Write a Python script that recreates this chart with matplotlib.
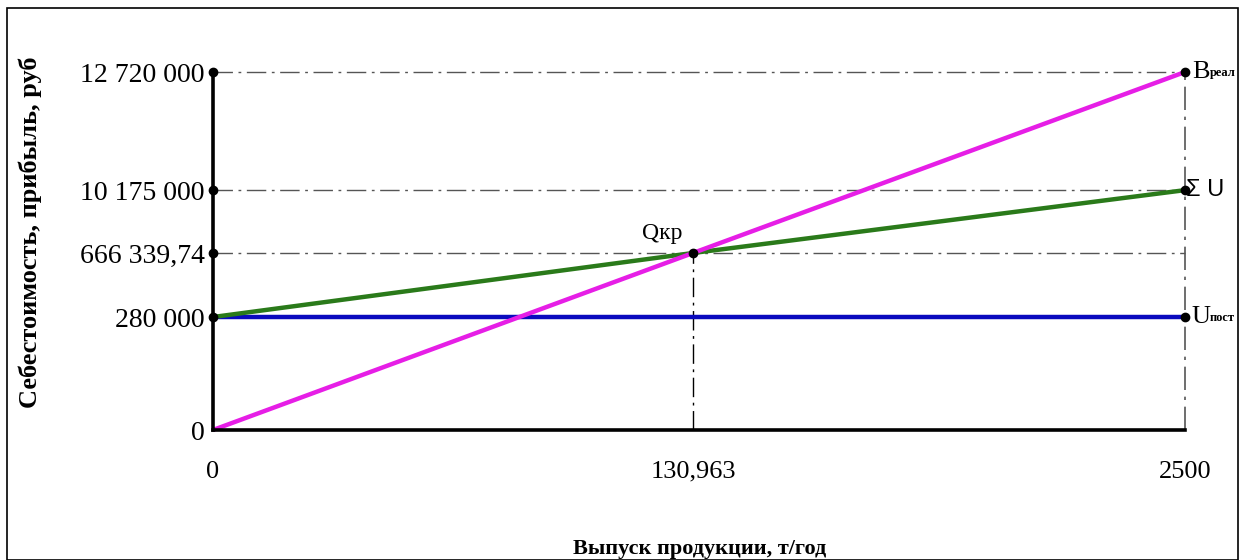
import numpy as np
import matplotlib
matplotlib.use("Agg")
import matplotlib.pyplot as plt
from matplotlib.patches import Rectangle

# ---- data ----
q_values = [0, 130.963, 2500]
x_tick_labels = ["0", "130,963", "2500"]
y_values = [0, 280000, 666339.74, 10175000, 12720000]
y_tick_labels = ["0", "280 000", "666 339,74", "10 175 000", "12 720 000"]
revenue = [0, 666339.74, 12720000]          # B реал
total_cost = [280000, 666339.74, 10175000]  # Σ U
fixed_cost = [280000, 280000, 280000]       # U пост
q_crit = 130.963
c_crit = 666339.74

# schematic (non-proportional) axis positions
x_pos = [0, 0.4938, 1.0]
y_pos = [0, 0.3156, 0.4944, 0.670, 1.0]

def make_scale(vals, pos):
    vals = np.asarray(vals, float); pos = np.asarray(pos, float)
    fwd = lambda v: np.interp(v, vals, pos)
    inv = lambda p: np.interp(p, pos, vals)
    return fwd, inv

W, H = 1245, 560
fig = plt.figure(figsize=(W/100, H/100), dpi=100)
serif = "Liberation Serif"
plt.rcParams['font.family'] = [serif, 'DejaVu Serif']

ax = fig.add_axes([213/W, (H-430)/H, (1185-213)/W, (430-72)/H])
ax.set_xscale('function', functions=make_scale(q_values, x_pos))
ax.set_yscale('function', functions=make_scale(y_values, y_pos))
ax.set_xlim(q_values[0], q_values[-1])
ax.set_ylim(y_values[0], y_values[-1])

for s in ['top', 'right']:
    ax.spines[s].set_visible(False)
for s in ['left', 'bottom']:
    ax.spines[s].set_linewidth(2.6)
    ax.spines[s].set_color('black')
    ax.spines[s].set_zorder(6)

ax.set_xticks(q_values)
ax.set_xticklabels(x_tick_labels, fontsize=19)
ax.set_yticks(y_values)
ax.set_yticklabels(y_tick_labels, fontsize=20)
ax.tick_params(axis='x', length=0, pad=22)
ax.tick_params(axis='y', length=0, pad=6)

# guide lines
dash = (0, (14, 4, 2, 4))
for yv in y_values[1:]:
    ax.plot([q_values[0], q_values[-1]], [yv, yv], color='#555555', lw=1,
            linestyle=dash, zorder=1, clip_on=False)
ax.plot([q_values[-1], q_values[-1]], [y_values[0], y_values[-1]], color='#555555',
        lw=1.2, linestyle=dash, zorder=1, clip_on=False)
ax.plot([q_crit, q_crit], [y_values[0], c_crit], color='black', lw=1,
        linestyle=dash, zorder=1, clip_on=False)

# series
ax.plot(q_values, fixed_cost, color='#0A0ABE', lw=3.2, zorder=3, clip_on=False,
        solid_capstyle='butt')
ax.plot(q_values, total_cost, color='#2A7A1A', lw=3.2, zorder=4, clip_on=False,
        solid_capstyle='butt')
ax.plot(q_values, revenue, color='#E61EE6', lw=3.2, zorder=5, clip_on=False,
        solid_capstyle='butt')

# points
ax.plot([0]*4, y_values[1:], 'o', color='black', ms=6, zorder=7, clip_on=False)
ax.plot([q_values[-1]]*3, [revenue[-1], total_cost[-1], fixed_cost[-1]], 'o',
        color='black', ms=6, zorder=7, clip_on=False)
ax.plot([q_crit], [c_crit], 'o', color='black', ms=6, zorder=7, clip_on=False)

# labels at right end
def end_label(big, small, yv, dx_small):
    ax.annotate(big, xy=(q_values[-1], yv), xytext=(5, 0), textcoords='offset points',
                va='center', ha='left', fontsize=19, annotation_clip=False)
    ax.annotate(small, xy=(q_values[-1], yv), xytext=(5 + dx_small, -1),
                textcoords='offset points', va='center', ha='left', fontsize=9,
                fontweight='bold', annotation_clip=False)

end_label("B", "реал", revenue[-1], 13)
end_label("U", "пост", fixed_cost[-1], 13)
ax.annotate("Σ U", xy=(q_values[-1], total_cost[-1]), xytext=(1, 0),
            textcoords='offset points', va='center', ha='left', fontsize=17,
            family='Liberation Sans', annotation_clip=False)
ax.annotate("Qкр", xy=(q_crit, c_crit), xytext=(-22, 14), textcoords='offset points',
            va='center', ha='center', fontsize=17, annotation_clip=False)

# axis titles
fig.text(30/W, 1 - 232/H, "Себестоимость, прибыль, руб", rotation=90, va='center',
         ha='center', fontsize=19, fontweight='bold')
fig.text(700/W, 1 - 549/H, "Выпуск продукции, т/год", va='center', ha='center',
         fontsize=16, fontweight='bold')

# outer frame
fig.patches.append(Rectangle((7/W, 0), (1238-7)/W, (H-8)/H, transform=fig.transFigure,
                             fill=False, edgecolor='black', lw=1.2))

fig.savefig("out.png", dpi=100)
